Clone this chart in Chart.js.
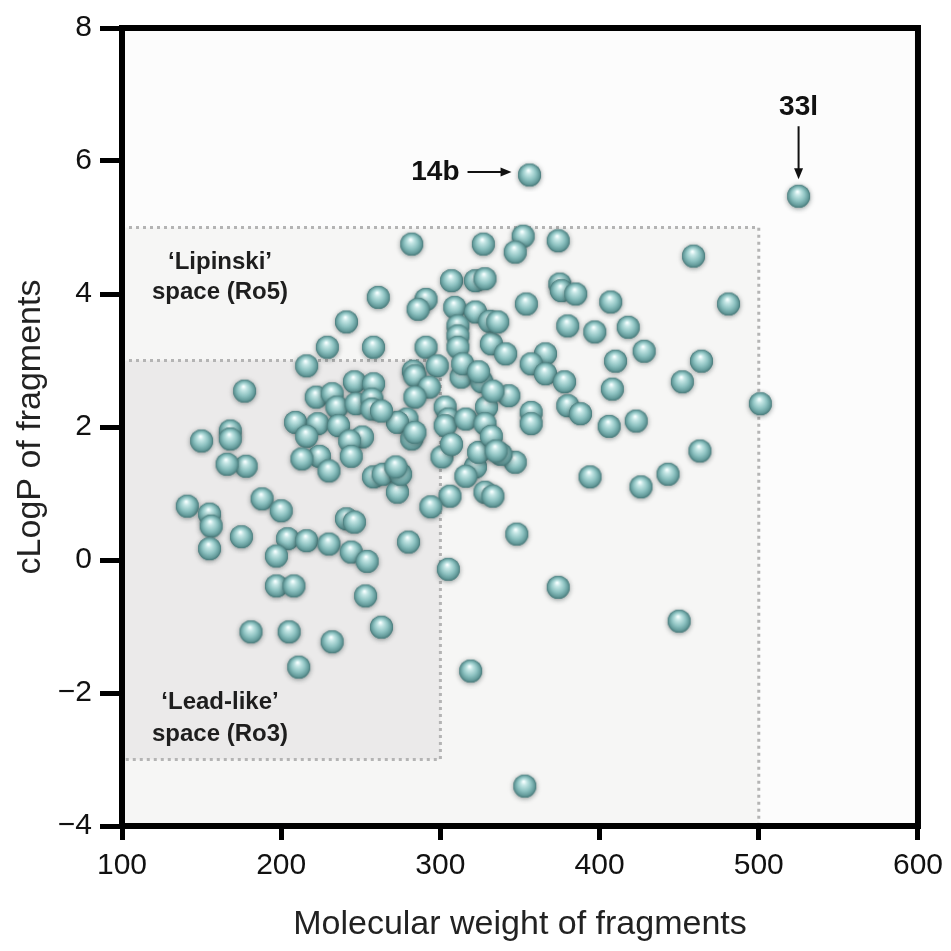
<!DOCTYPE html>
<html><head><meta charset="utf-8">
<script src="https://cdn.jsdelivr.net/npm/chart.js@4.4.1/dist/chart.umd.min.js"></script>
<style>html,body{margin:0;padding:0;background:#fff;}#wrap{width:951px;height:951px;}</style>
</head><body><div id="wrap"><canvas id="c" width="951" height="951"></canvas></div>
<script>
// Molecular weight (x) and cLogP (y) of fragments
const mw = [356,525,352,347,327,282,374,459,261,291,286,307,322,328,309,322,331,311,311,311,
  241,229,258,291,332,341,375,376,385,354,407,380,397,418,428,410,464,452,366,357,
  366,378,408,343,357,357,380,388,406,423,336,481,501,463,394,426,443,374,450,216,
  177,246,258,222,232,235,247,257,257,209,223,216,236,251,243,168,168,150,178,166,
  224,213,230,244,258,264,188,200,141,155,156,155,175,204,216,197,197,208,181,205,
  211,232,263,319,353,241,246,230,244,254,253,280,305,348,273,275,301,306,294,322,
  316,328,333,324,347,338,283,284,298,313,326,293,284,303,305,303,316,329,328,279,
  273,263,282,307,332,335,272,284,314,324,333];
const clogp = [5.79,5.47,4.87,4.63,4.75,4.75,4.80,4.57,3.95,3.92,3.77,4.20,4.20,4.23,3.80,3.73,3.59,3.52,3.37,3.20,
  3.58,3.20,3.20,3.20,3.25,3.10,4.15,4.05,4.00,3.85,3.88,3.52,3.43,3.50,3.14,2.99,2.99,2.68,3.10,2.95,
  2.80,2.68,2.57,2.47,2.22,2.05,2.32,2.20,2.01,2.09,3.58,3.85,2.35,1.64,1.25,1.10,1.29,-0.41,-0.92,2.92,
  2.54,2.68,2.65,2.45,2.50,2.30,2.35,2.42,2.27,2.07,2.05,1.86,2.02,1.85,1.79,1.94,1.82,1.79,1.41,1.44,
  1.56,1.52,1.34,1.56,1.25,1.29,0.92,0.74,0.81,0.69,0.51,0.17,0.35,0.32,0.29,0.06,-0.39,-0.39,-1.08,-1.08,
  -1.61,-1.23,-1.01,-1.67,-3.40,0.62,0.57,0.24,0.12,-0.02,-0.54,0.27,-0.14,0.39,1.02,1.29,1.55,0.96,0.80,1.40,
  1.26,1.02,0.96,1.62,1.47,1.59,2.84,2.77,2.92,2.75,2.68,2.60,2.45,2.30,2.12,2.02,2.12,2.30,2.05,2.12,
  2.07,2.24,1.82,1.74,1.86,1.64,1.40,1.92,2.95,2.83,2.54];
const xTicks = [100,200,300,400,500,600];
const yTicks = [-4,-2,0,2,4,6,8];
const xTitle = 'Molecular weight of fragments';
const yTitle = 'cLogP of fragments';
// rule-of-thumb regions
const regionLipinski = {lines:['\u2018Lipinski\u2019','space (Ro5)'], mwMax:500, logpMin:-4, logpMax:5};
const regionLead = {lines:['\u2018Lead-like\u2019','space (Ro3)'], mwMax:300, logpMin:-3, logpMax:3};
// labelled compounds
const callouts = [{label:'14b', mw:356, clogp:5.79, side:'left'}, {label:'33l', mw:525, clogp:5.47, side:'top'}];

const FONT = "'Liberation Sans', Arial, Helvetica, sans-serif";

function makeSphere(r){
  const pad=6, s=Math.ceil(2*(r+pad));
  const c=document.createElement('canvas'); c.width=s; c.height=s;
  const g=c.getContext('2d');
  const cx=s/2, cy=s/2;
  g.save();
  g.shadowColor='rgba(30,45,45,0.5)'; g.shadowBlur=5; g.shadowOffsetY=1;
  g.beginPath(); g.arc(cx,cy,r,0,Math.PI*2); g.fillStyle='#5a8f8f'; g.fill();
  g.restore();
  const grad=g.createRadialGradient(cx-r*0.1, cy-r*0.4, r*0.05, cx, cy, r);
  grad.addColorStop(0,'#f6ffff');
  grad.addColorStop(0.22,'#c4e6e5');
  grad.addColorStop(0.58,'#8dc2c1');
  grad.addColorStop(0.87,'#639a9a');
  grad.addColorStop(1,'#477878');
  g.beginPath(); g.arc(cx,cy,r,0,Math.PI*2); g.fillStyle=grad; g.fill();
  return c;
}
const sphere = makeSphere(11.5);

const points = mw.map((x,i)=>({x:x, y:clogp[i]}));

const decor = {
  id:'decor',
  beforeDatasetsDraw(chart){
    const {ctx, chartArea:a, scales:{x,y}} = chart;
    ctx.save();
    ctx.fillStyle='#fcfcfc';
    ctx.fillRect(a.left,a.top,a.right-a.left,a.bottom-a.top);
    // Lipinski region
    const lx2=x.getPixelForValue(regionLipinski.mwMax), ly1=y.getPixelForValue(regionLipinski.logpMax), ly2=y.getPixelForValue(regionLipinski.logpMin);
    ctx.fillStyle='#f6f6f5';
    ctx.fillRect(a.left,ly1,lx2-a.left,ly2-ly1);
    // Lead-like region
    const dx2=x.getPixelForValue(regionLead.mwMax), dy1=y.getPixelForValue(regionLead.logpMax), dy2=y.getPixelForValue(regionLead.logpMin);
    ctx.fillStyle='#ebeaea';
    ctx.fillRect(a.left,dy1,dx2-a.left,dy2-dy1);
    ctx.strokeStyle='#b4b4b4'; ctx.lineWidth=3; ctx.setLineDash([3,4]);
    ctx.beginPath();
    ctx.moveTo(a.left,ly1); ctx.lineTo(lx2,ly1); ctx.lineTo(lx2,a.bottom);
    ctx.moveTo(a.left,dy1); ctx.lineTo(dx2,dy1); ctx.lineTo(dx2,dy2); ctx.lineTo(a.left,dy2);
    ctx.stroke();
    ctx.setLineDash([]);
    // region labels
    ctx.fillStyle='#1e1e1e'; ctx.font='bold 24px '+FONT; ctx.textAlign='center'; ctx.textBaseline='middle';
    const cxL=a.left+98;
    ctx.fillText(regionLipinski.lines[0], cxL, ly1+35);
    ctx.fillText(regionLipinski.lines[1], cxL, ly1+65);
    ctx.fillText(regionLead.lines[0], cxL, dy2-57);
    ctx.fillText(regionLead.lines[1], cxL, dy2-25);
    // frame
    ctx.strokeStyle='#000'; ctx.lineWidth=6;
    ctx.strokeRect(a.left,a.top,a.right-a.left,a.bottom-a.top);
    ctx.restore();
  },
  afterDatasetsDraw(chart){
    const {ctx, scales:{x,y}} = chart;
    ctx.save();
    ctx.fillStyle='#111'; ctx.strokeStyle='#111'; ctx.lineWidth=2;
    ctx.font='bold 28px '+FONT; ctx.textBaseline='middle';
    callouts.forEach(c=>{
      const px=x.getPixelForValue(c.mw), py=y.getPixelForValue(c.clogp);
      if(c.side==='left'){
        const ay=py-3;
        ctx.textAlign='right'; ctx.fillText(c.label, px-70, ay);
        const x0=px-62, x1=px-18;
        ctx.beginPath(); ctx.moveTo(x0,ay); ctx.lineTo(x1-8,ay); ctx.stroke();
        ctx.beginPath(); ctx.moveTo(x1,ay); ctx.lineTo(x1-11,ay-4.5); ctx.lineTo(x1-11,ay+4.5); ctx.closePath(); ctx.fill();
      } else {
        ctx.textAlign='center'; ctx.fillText(c.label, px, py-89);
        const y0=py-70, y1=py-17;
        ctx.beginPath(); ctx.moveTo(px,y0); ctx.lineTo(px,y1-8); ctx.stroke();
        ctx.beginPath(); ctx.moveTo(px,y1); ctx.lineTo(px-4.5,y1-11); ctx.lineTo(px+4.5,y1-11); ctx.closePath(); ctx.fill();
      }
    });
    ctx.restore();
  }
};

new Chart(document.getElementById('c'), {
  type:'scatter',
  data:{datasets:[{data:points, pointStyle:sphere, pointRadius:11.5, pointHoverRadius:11.5}]},
  options:{
    responsive:false, animation:false, devicePixelRatio:1, events:[],
    layout:{padding:{top:28,right:29,left:0,bottom:0}},
    plugins:{legend:{display:false}, tooltip:{enabled:false}},
    scales:{
      x:{type:'linear', min:100, max:600,
        afterBuildTicks(s){ s.ticks = xTicks.map(v=>({value:v})); },
        afterFit(s){ s.height=125; },
        ticks:{font:{size:30,family:FONT}, color:'#111', padding:8},
        grid:{drawOnChartArea:false, drawTicks:true, tickLength:14, tickWidth:5, tickColor:'#000', lineWidth:5, color:'#000'},
        border:{display:false},
        title:{display:true, text:xTitle, font:{size:34,family:FONT}, color:'#222', padding:{top:0,bottom:6}}
      },
      y:{type:'linear', min:-4, max:8,
        afterBuildTicks(s){ s.ticks = yTicks.map(v=>({value:v})); },
        afterFit(s){ s.width=122; },
        ticks:{font:{size:30,family:FONT}, color:'#111', padding:8,
          callback:v=> v<0 ? '\u2212'+Math.abs(v) : String(v)},
        grid:{drawOnChartArea:false, drawTicks:true, tickLength:22, tickWidth:5, tickColor:'#000', lineWidth:5, color:'#000'},
        border:{display:false},
        title:{display:true, text:yTitle, font:{size:34,family:FONT}, color:'#222', padding:{top:10,bottom:0}}
      }
    }
  },
  plugins:[decor]
});
</script></body></html>
